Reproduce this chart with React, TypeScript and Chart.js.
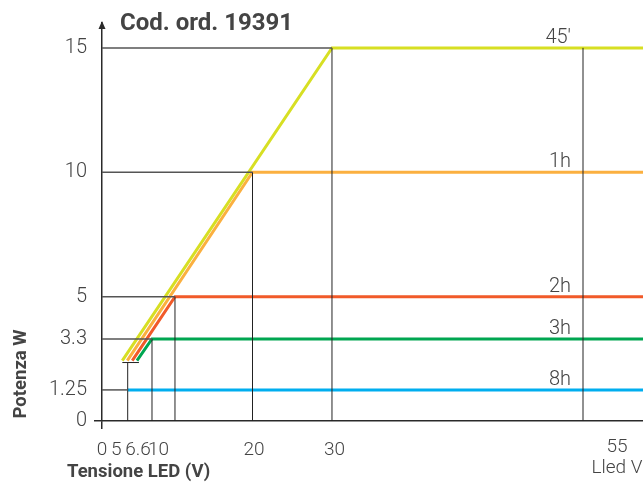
import React, { useEffect, useRef } from "react";
import { Chart, registerables, LinearScale } from "chart.js";

// ---- data ----
const SERIES_LABELS = ["45′", "1h", "2h", "3h", "8h"];
const PLATEAU_W = [15, 10, 5, 3.3, 1.25];
const KNEE_V = [30, 20, 10, 6.6, 5];
const RAMP_START_V = [3.95, 4.92, 5.3, 5.61];
const RAMP_START_W = 2.43;
const V_END = 61;
const MIN_MARK_V = 5;
const MIN_MARK_W = 2.35;
const MIN_MARK_SPAN = [3.95, 5.74];
const MAX_MARK_V = 55;
const Y_TICKS = [0, 1.25, 3.3, 5, 10, 15];
const X_TICKS = [0, 5, 6.6, 10, 20, 30, 55];
const X_TICK_LABELS = ["0", "5", "6.6", "10", "20", "30", "55"];
const X_UNIT = "Lled V";
const TITLE = "Cod. ord. 19391";
const X_TITLE = "Tensione LED (V)";
const Y_TITLE = "Potenza W";

// ---- styles / layout ----
const SERIES_COLORS = ["#d7df23", "#fbb040", "#f15a29", "#00a651", "#00aeef"];
const AXIS = "#2a2a2a";
const TEXT = "#444444";
// the original voltage axis is not drawn to scale: value -> fraction of axis width
const X_STOPS: [number, number][] = [
  [0, 0], [5, 0.0475], [6.6, 0.0924], [10, 0.1349], [20, 0.2782], [30, 0.4251], [55, 0.8891], [61, 1],
];
const X_LABEL_DX = [0, -11.5, -14, -16.5, 1.5, 2.5, 34];

function toDec(v: number) {
  const s = X_STOPS;
  let i = 0;
  while (i < s.length - 2 && v > s[i + 1][0]) i++;
  const [v0, d0] = s[i];
  const [v1, d1] = s[i + 1];
  return d0 + ((v - v0) / (v1 - v0)) * (d1 - d0);
}
function fromDec(d: number) {
  const s = X_STOPS;
  let i = 0;
  while (i < s.length - 2 && d > s[i + 1][1]) i++;
  const [v0, d0] = s[i];
  const [v1, d1] = s[i + 1];
  return v0 + ((d - d0) / (d1 - d0)) * (v1 - v0);
}

class PiecewiseScale extends (LinearScale as any) {
  static id = "piecewise";
  static defaults = {};
  getPixelForValue(value: number) {
    if (value === null || value === undefined || isNaN(value)) return NaN;
    return (this as any).getPixelForDecimal(toDec(value));
  }
  getValueForPixel(pixel: number) {
    return fromDec((this as any).getDecimalForPixel(pixel));
  }
}

Chart.register(...registerables, PiecewiseScale as any);

const FONT_LIGHT = (size: number) => `300 ${size}px Roboto, "Liberation Sans", sans-serif`;
const FONT_BOLD = (size: number) => `bold ${size}px Roboto, "Liberation Sans", sans-serif`;

const decorPlugin = {
  id: "decor",
  afterDraw(chart: any) {
    const ctx = chart.ctx as CanvasRenderingContext2D;
    const xs = chart.scales.x;
    const ys = chart.scales.y;
    const area = chart.chartArea;
    ctx.save();
    // arrow at the top of the power axis
    ctx.fillStyle = AXIS;
    ctx.beginPath();
    ctx.moveTo(area.left, area.top - 2);
    ctx.lineTo(area.left - 3.5, area.top + 6);
    ctx.lineTo(area.left + 3.5, area.top + 6);
    ctx.closePath();
    ctx.fill();

    // title
    ctx.fillStyle = TEXT;
    ctx.textBaseline = "alphabetic";
    ctx.textAlign = "left";
    ctx.font = FONT_BOLD(24);
    ctx.fillText(TITLE, 120, 30);

    // x tick labels
    ctx.font = FONT_LIGHT(19);
    ctx.textAlign = "center";
    X_TICKS.forEach((v, i) => {
      const x = xs.getPixelForValue(v) + X_LABEL_DX[i];
      const last = i === X_TICKS.length - 1;
      ctx.fillText(X_TICK_LABELS[i], x, last ? 452 : 455);
      if (last) ctx.fillText(X_UNIT, x, 473);
    });

    // series labels
    ctx.font = FONT_LIGHT(20);
    ctx.textAlign = "right";
    const lx = xs.getPixelForValue(MAX_MARK_V) - 12;
    SERIES_LABELS.forEach((lab, i) => {
      ctx.fillText(lab, lx, ys.getPixelForValue(PLATEAU_W[i]) - 5);
    });

    // axis titles
    ctx.font = FONT_BOLD(18.5);
    ctx.textAlign = "left";
    ctx.fillText(X_TITLE, 67, 477);
    ctx.save();
    ctx.translate(25.5, 374);
    ctx.rotate(-Math.PI / 2);
    ctx.textAlign = "center";
    ctx.fillText(Y_TITLE, 0, 0);
    ctx.restore();
    ctx.restore();
  },
};

export default function App() {
  const ref = useRef<HTMLCanvasElement>(null);
  useEffect(() => {
    document.body.style.margin = "0";
    const canvas = ref.current!;
    const lineDs = (data: { x: number; y: number }[], color: string, width: number) => ({
      data,
      borderColor: color,
      borderWidth: width,
      pointRadius: 0,
      fill: false,
      tension: 0,
      borderJoinStyle: "miter" as const,
      borderCapStyle: "butt" as const,
    });

    const guides: any[] = [];
    PLATEAU_W.forEach((w, i) => {
      guides.push(lineDs([{ x: 0, y: w }, { x: KNEE_V[i], y: w }], "#555555", 1.5));
      if (i < RAMP_START_V.length)
        guides.push(lineDs([{ x: KNEE_V[i], y: 0 }, { x: KNEE_V[i], y: w }], "#222222", 1));
    });
    guides.push(lineDs([{ x: MIN_MARK_V, y: 0 }, { x: MIN_MARK_V, y: MIN_MARK_W }], "#222222", 1));
    guides.push(
      lineDs([{ x: MIN_MARK_SPAN[0], y: MIN_MARK_W }, { x: MIN_MARK_SPAN[1], y: MIN_MARK_W }], "#222222", 1)
    );
    guides.push(lineDs([{ x: MAX_MARK_V, y: 0 }, { x: MAX_MARK_V, y: PLATEAU_W[0] }], "#222222", 1));

    const series = SERIES_LABELS.map((lab, i) => {
      const pts: { x: number; y: number }[] = [];
      if (i < RAMP_START_V.length) pts.push({ x: RAMP_START_V[i], y: RAMP_START_W });
      pts.push({ x: KNEE_V[i], y: PLATEAU_W[i] });
      pts.push({ x: V_END, y: PLATEAU_W[i] });
      return { ...lineDs(pts, SERIES_COLORS[i], 3), label: lab };
    });

    const tickGrid = {
      drawOnChartArea: false,
      tickLength: 8,
      lineWidth: 1.5,
      color: (c: any) => (c.tick && c.tick.value === 0 ? AXIS : "rgba(0,0,0,0)"),
    };

    const chart = new Chart(canvas, {
      type: "line",
      data: { datasets: [...guides, ...series] as any },
      options: {
        animation: false,
        responsive: false,
        devicePixelRatio: 1,
        parsing: false as any,
        layout: { padding: { top: 23, left: 0, right: 0, bottom: 0 } },
        plugins: { legend: { display: false }, tooltip: { enabled: false }, title: { display: false } },
        scales: {
          x: {
            type: "piecewise" as any,
            min: 0,
            max: V_END,
            afterBuildTicks: (s: any) => {
              s.ticks = X_TICKS.map((v) => ({ value: v }));
            },
            afterFit: (s: any) => {
              s.height = 63;
            },
            ticks: { display: false },
            grid: tickGrid as any,
            border: { display: true, color: AXIS, width: 1.5 },
          } as any,
          y: {
            type: "linear",
            min: 0,
            max: 16,
            afterBuildTicks: (s: any) => {
              s.ticks = Y_TICKS.map((v) => ({ value: v }));
            },
            afterFit: (s: any) => {
              s.width = 102;
            },
            ticks: {
              color: TEXT,
              padding: 7,
              font: { family: "Roboto", size: 20, weight: "300" as any },
              callback: (v: any) => String(v),
            },
            grid: tickGrid as any,
            border: { display: true, color: AXIS, width: 1.5 },
          },
        },
      },
      plugins: [decorPlugin],
    });
    return () => chart.destroy();
  }, []);

  return (
    <div style={{ width: 643, height: 484 }}>
      <canvas ref={ref} width={643} height={484} style={{ display: "block" }} />
    </div>
  );
}
